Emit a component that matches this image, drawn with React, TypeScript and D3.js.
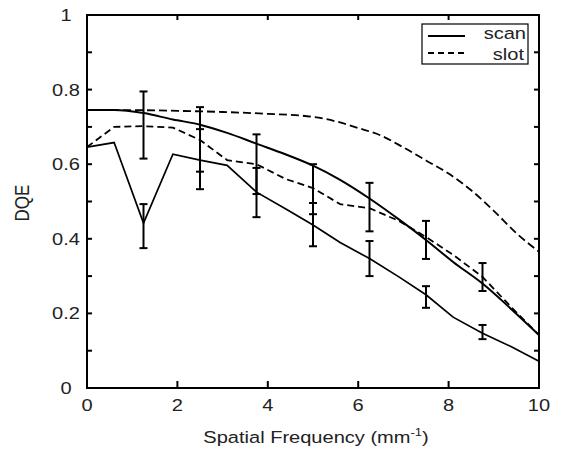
import React from "react";
import * as d3 from "d3";

const freqTheory = [0, 0.6, 1.25, 1.9, 2.5, 3.1, 3.75, 4.4, 5, 5.6, 6.25, 6.9, 7.5, 8.1, 8.75, 9.4, 10];
const scanTheory = [0.745, 0.745, 0.737, 0.72, 0.706, 0.684, 0.655, 0.626, 0.596, 0.558, 0.508, 0.452, 0.397, 0.338, 0.28, 0.21, 0.142];

const freqSlotTheory = [0, 1, 2, 3, 4, 5, 5.5, 6, 6.5, 7, 7.5, 8, 8.5, 9, 9.5, 10];
const slotTheory = [0.745, 0.745, 0.743, 0.74, 0.735, 0.727, 0.715, 0.697, 0.677, 0.645, 0.61, 0.575, 0.53, 0.475, 0.415, 0.365];

const freqMeasured = [0, 0.6, 1.25, 1.9, 2.5, 3.1, 3.75, 4.4, 5, 5.6, 6.25, 6.9, 7.5, 8.1, 8.75, 9.4, 10];
const scanMeasured = [0.646, 0.658, 0.442, 0.627, 0.611, 0.597, 0.525, 0.48, 0.437, 0.39, 0.347, 0.298, 0.25, 0.19, 0.147, 0.11, 0.072];
const slotMeasured = [0.646, 0.7, 0.702, 0.698, 0.665, 0.611, 0.6, 0.56, 0.536, 0.493, 0.482, 0.448, 0.405, 0.357, 0.298, 0.215, 0.142];

const errFreq = [1.25, 2.5, 3.75, 5, 6.25, 7.5, 8.75];
const slotErrLow = [0.615, 0.58, 0.52, 0.466, 0.42, 0.346, 0.26];
const slotErrHigh = [0.795, 0.753, 0.68, 0.6, 0.55, 0.448, 0.335];
const scanErrLow = [0.375, 0.533, 0.458, 0.38, 0.3, 0.215, 0.131];
const scanErrHigh = [0.493, 0.694, 0.59, 0.496, 0.394, 0.273, 0.169];

const xTicks = [0, 2, 4, 6, 8, 10];
const yTickLabels = ["0", "0.2", "0.4", "0.6", "0.8", "1"];
const yTicks = [0, 0.2, 0.4, 0.6, 0.8, 1];
const yMinorTicks = [0.1, 0.2, 0.3, 0.4, 0.5, 0.6, 0.7, 0.8, 0.9];

const legendNames = ["scan", "slot"];

const W = 564;
const H = 454;
const L = 87, R = 539, T = 15, B = 388;
const FONT = "'Liberation Sans', Arial, sans-serif";
const SX = 1.18;
const TXT = "#222";

export default function App() {
  const x = d3.scaleLinear().domain([0, 10]).range([L, R]);
  const y = d3.scaleLinear().domain([0, 1]).range([B, T]);
  const line = (xs: number[], ys: number[], smooth: boolean) =>
    d3
      .line<number>()
      .x((_, i) => x(xs[i]))
      .y((d) => y(d))
      .curve(smooth ? d3.curveMonotoneX : d3.curveLinear)(ys) || "";

  const errBars = (lo: number[], hi: number[], key: string) =>
    errFreq.map((f, i) => {
      const cx = x(f);
      return (
        <g key={key + i} stroke="#000" strokeWidth={2}>
          <line x1={cx} x2={cx} y1={y(lo[i])} y2={y(hi[i])} />
          <line x1={cx - 4} x2={cx + 4} y1={y(lo[i])} y2={y(lo[i])} />
          <line x1={cx - 4} x2={cx + 4} y1={y(hi[i])} y2={y(hi[i])} />
        </g>
      );
    });

  const txt = (tx: number, ty: number, s: React.ReactNode, size: number, anchor: string, key?: string) => (
    <g key={key} transform={`translate(${tx},${ty}) scale(${SX},1)`}>
      <text x={0} y={0} fontSize={size} fontFamily={FONT} textAnchor={anchor} fill={TXT}>
        {s}
      </text>
    </g>
  );

  return (
    <svg width={W} height={H} style={{ position: "absolute", left: 0, top: 0, background: "#fff" }}>
      <rect x={0} y={0} width={W} height={H} fill="#fff" />
      {/* curves */}
      <path d={line(freqSlotTheory, slotTheory, true)} fill="none" stroke="#000" strokeWidth={1.8} strokeDasharray="8,4" />
      <path d={line(freqMeasured, slotMeasured, false)} fill="none" stroke="#000" strokeWidth={1.8} strokeDasharray="7,4" />
      <path d={line(freqTheory, scanTheory, true)} fill="none" stroke="#000" strokeWidth={2} />
      <path d={line(freqMeasured, scanMeasured, false)} fill="none" stroke="#000" strokeWidth={1.7} />
      {errBars(slotErrLow, slotErrHigh, "s")}
      {errBars(scanErrLow, scanErrHigh, "c")}

      {/* frame */}
      <rect x={L} y={T} width={R - L} height={B - T} fill="none" stroke="#000" strokeWidth={2} />
      {xTicks.slice(1, -1).map((t) => (
        <g key={"xt" + t} stroke="#000" strokeWidth={2}>
          <line x1={x(t)} x2={x(t)} y1={B} y2={B - 7} />
          <line x1={x(t)} x2={x(t)} y1={T} y2={T + 5} />
        </g>
      ))}
      {yMinorTicks.map((t) => (
        <g key={"yt" + t} stroke="#000" strokeWidth={2}>
          <line x1={L} x2={L + 5} y1={y(t)} y2={y(t)} />
          <line x1={R} x2={R - 5} y1={y(t)} y2={y(t)} />
        </g>
      ))}

      {/* tick labels */}
      {xTicks.map((t) => txt(x(t), 411, String(t), 17, "middle", "xl" + t))}
      {yTicks.map((t, i) => txt(66, y(t) + 6, yTickLabels[i], 17, "middle", "yl" + t))}

      {/* axis titles */}
      <g transform={`translate(29,203) scale(${SX},1) rotate(-90)`}>
        <text x={0} y={0} fontSize={17} fontFamily={FONT} textAnchor="middle" fill={TXT}>
          DQE
        </text>
      </g>
      {txt(
        316,
        443,
        <>
          Spatial Frequency (mm
          <tspan fontSize={11} dy={-7}>-1</tspan>
          <tspan dy={7}>)</tspan>
        </>,
        17,
        "middle",
        "xlab"
      )}

      {/* legend */}
      <rect x={422} y={24} width={106} height={40} fill="#fff" stroke="#000" strokeWidth={1.2} />
      <line x1={428} x2={465} y1={36} y2={36} stroke="#000" strokeWidth={2} />
      <line x1={428} x2={465} y1={53} y2={53} stroke="#000" strokeWidth={2} strokeDasharray="6,4" />
      {txt(526, 39, legendNames[0], 17, "end", "lg0")}
      {txt(524, 60, legendNames[1], 17, "end", "lg1")}
    </svg>
  );
}
